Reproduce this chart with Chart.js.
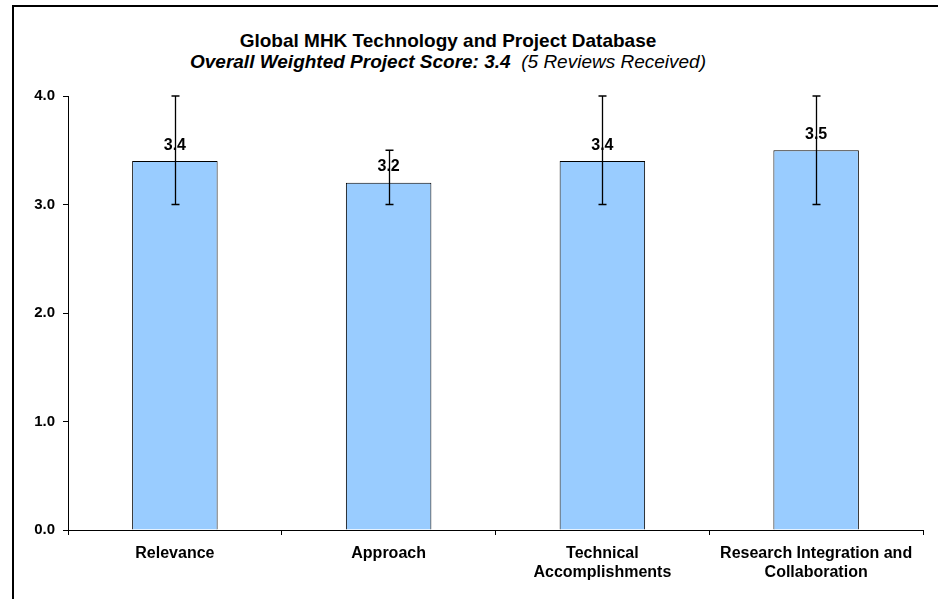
<!DOCTYPE html>
<html>
<head>
<meta charset="utf-8">
<script src="https://cdn.jsdelivr.net/npm/chart.js@4/dist/chart.umd.min.js"></script>
<style>
  body { margin:0; background:#fff; width:938px; height:599px; overflow:hidden; position:relative; font-family:"Liberation Sans", Arial, sans-serif; }
  #frame { position:absolute; left:12px; top:5px; width:960px; height:620px; border-left:2px solid #000; border-top:2px solid #000; }
  #title { position:absolute; left:0; top:30px; width:896px; text-align:center; color:#000; font-size:19px; line-height:21px; }
  #title .l1 { font-weight:bold; }
  #title .l2 b { font-style:italic; }
  #title .l2 i { font-weight:normal; }
  canvas { position:absolute; left:0; top:0; }
</style>
</head>
<body>
<div id="frame"></div>
<div id="title">
  <div class="l1">Global MHK Technology and Project Database</div>
  <div class="l2"><b>Overall Weighted Project Score: 3.4</b>&nbsp; <i>(5 Reviews Received)</i></div>
</div>
<canvas id="chart" width="938" height="599"></canvas>
<script>
// data
const categories = ['Relevance', 'Approach', ['Technical', 'Accomplishments'], ['Research Integration and', 'Collaboration']];
const scores = [3.4, 3.2, 3.4, 3.5];
const errLow = [3.0, 3.0, 3.0, 3.0];
const errHigh = [4.0, 3.5, 4.0, 4.0];
const yTicks = [0, 1, 2, 3, 4];

// labels + error bars
const barExtras = {
  id: 'barExtras',
  afterDatasetsDraw(chart) {
    const ctx = chart.ctx;
    const y = chart.scales.y;
    const meta = chart.getDatasetMeta(0);
    ctx.save();
    ctx.fillStyle = '#000';
    ctx.font = 'bold 16px "Liberation Sans", Arial, sans-serif';
    ctx.textAlign = 'center';
    ctx.textBaseline = 'middle';
    meta.data.forEach((bar, i) => {
      ctx.fillText(scores[i].toFixed(1), bar.x, bar.y - 16);
    });
    ctx.strokeStyle = '#000';
    ctx.lineWidth = 1.3;
    meta.data.forEach((bar, i) => {
      const x = Math.round(bar.x) + 0.5;
      const lo = y.getPixelForValue(errLow[i]);
      const hi = y.getPixelForValue(errHigh[i]);
      ctx.beginPath();
      ctx.moveTo(x, lo); ctx.lineTo(x, hi);
      ctx.moveTo(x - 4, lo); ctx.lineTo(x + 4, lo);
      ctx.moveTo(x - 4, hi); ctx.lineTo(x + 4, hi);
      ctx.stroke();
    });
    ctx.restore();
  }
};

new Chart(document.getElementById('chart'), {
  type: 'bar',
  data: {
    labels: categories,
    datasets: [{
      data: scores,
      backgroundColor: '#99CCFF',
      borderColor: '#000',
      borderWidth: 1,
      barPercentage: 0.4,
      categoryPercentage: 1.0
    }]
  },
  options: {
    responsive: false,
    devicePixelRatio: 1,
    animation: false,
    layout: { padding: { left: 0, right: 15, top: 96, bottom: 0 } },
    plugins: { legend: { display: false }, tooltip: { enabled: false } },
    scales: {
      x: {
        afterFit: s => { s.height = 69; },
        grid: { offset: true, drawOnChartArea: false, drawTicks: true, tickLength: 5, color: '#000' },
        border: { display: true, color: '#000', width: 1 },
        ticks: {
          color: '#000', padding: 9, maxRotation: 0, autoSkip: false,
          font: { family: '"Liberation Sans", Arial, sans-serif', size: 16, weight: 'bold', lineHeight: 1.2 }
        }
      },
      y: {
        min: yTicks[0], max: yTicks[yTicks.length - 1],
        afterFit: s => { s.width = 68; },
        afterBuildTicks: s => { s.ticks = yTicks.map(v => ({ value: v })); },
        grid: { drawOnChartArea: false, drawTicks: true, tickLength: 5, color: '#000' },
        border: { display: true, color: '#000', width: 1 },
        ticks: {
          color: '#000', padding: 8,
          callback: v => Number(v).toFixed(1),
          font: { family: '"Liberation Sans", Arial, sans-serif', size: 15, weight: 'bold' }
        }
      }
    }
  },
  plugins: [barExtras]
});
</script>
</body>
</html>
